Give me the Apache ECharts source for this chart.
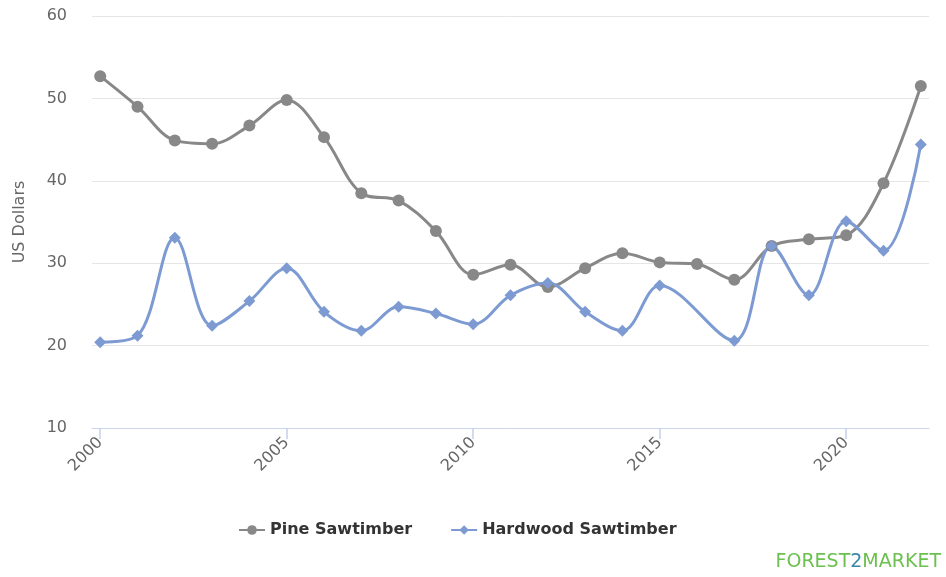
<!DOCTYPE html>
<html><head><meta charset="utf-8">
<script src="https://cdn.jsdelivr.net/npm/echarts@6/dist/echarts.min.js"></script>
<style>html,body{margin:0;padding:0;background:#fff}#c{width:946px;height:577px}</style>
</head><body><div id="c"></div>
<script>
const pineYears = [2000,2001,2002,2003,2004,2005,2006,2007,2008,2009,2010,2011,2012,2013,2014,2015,2016,2017,2018,2019,2020,2021,2022];
const pineValues = [52.7,49.0,44.9,44.5,46.7,49.8,45.3,38.5,37.6,33.9,28.6,29.8,27.1,29.4,31.2,30.1,29.9,28.0,32.1,32.9,33.4,39.7,51.5];
const hardwoodYears = [2000,2001,2002,2003,2004,2005,2006,2007,2008,2009,2010,2011,2012,2013,2014,2015,2017,2018,2019,2020,2021,2022];
const hardwoodValues = [20.4,21.2,33.1,22.4,25.4,29.4,24.1,21.8,24.7,23.9,22.6,26.1,27.6,24.1,21.8,27.3,20.6,32.1,26.1,35.1,31.5,44.4];
const xTickLabels = [2000,2005,2010,2015,2020];
const yTicks = [10,20,30,40,50,60];
const seriesNames = ['Pine Sawtimber','Hardwood Sawtimber'];

const font = 'DejaVu Sans';
const chart = echarts.init(document.getElementById('c'));
chart.setOption({
  animation:false,
  grid:{left:92,right:17,top:16,bottom:149,containLabel:false},
  legend:{
    bottom:34,left:233,itemGap:38,itemWidth:26,itemHeight:12,
    textStyle:{fontFamily:font,fontSize:16,fontWeight:'bold',color:'#333'},
    data:seriesNames
  },
  xAxis:{
    type:'value',min:1999.78,max:2022.22,
    axisLine:{show:true,lineStyle:{color:'#ccd6eb',width:1}},
    axisTick:{show:true,length:11,lineStyle:{color:'#c4d0ea',width:1.5},customValues:xTickLabels},
    axisLabel:{rotate:45,margin:12,fontFamily:font,fontSize:16,color:'#666',customValues:xTickLabels,formatter:v=>String(Math.round(v))},
    splitLine:{show:false}
  },
  yAxis:{
    type:'value',min:yTicks[0],max:yTicks[yTicks.length-1],interval:10,
    name:'US Dollars',nameLocation:'middle',nameGap:64,nameRotate:90,
    nameTextStyle:{fontFamily:font,fontSize:16,color:'#666'},
    axisLine:{show:false},axisTick:{show:false},
    axisLabel:{margin:25,fontFamily:font,fontSize:16,color:'#666'},
    splitLine:{lineStyle:{color:'#e6e6e6',width:1}}
  },
  series:[
    {name:seriesNames[0],type:'line',smooth:0.35,symbol:'circle',symbolSize:12,
     color:'#888888',lineStyle:{width:3,color:'#888888'},itemStyle:{color:'#888888'},
     data:pineYears.map((y,i)=>[y,pineValues[i]])},
    {name:seriesNames[1],type:'line',smooth:0.35,symbol:'diamond',symbolSize:12,
     color:'#7d9bd2',lineStyle:{width:3,color:'#7d9bd2'},itemStyle:{color:'#7d9bd2'},
     data:hardwoodYears.map((y,i)=>[y,hardwoodValues[i]])}
  ],
  title:{
    text:'{g|FOREST}{b|2}{g|MARKET}',right:0,bottom:0,
    textStyle:{fontWeight:'normal',rich:{
      g:{fontFamily:font,fontSize:19,fontWeight:'normal',color:'#6cc04f'},
      b:{fontFamily:font,fontSize:19,fontWeight:'normal',color:'#3b87a8'}}}
  }
});
</script></body></html>
